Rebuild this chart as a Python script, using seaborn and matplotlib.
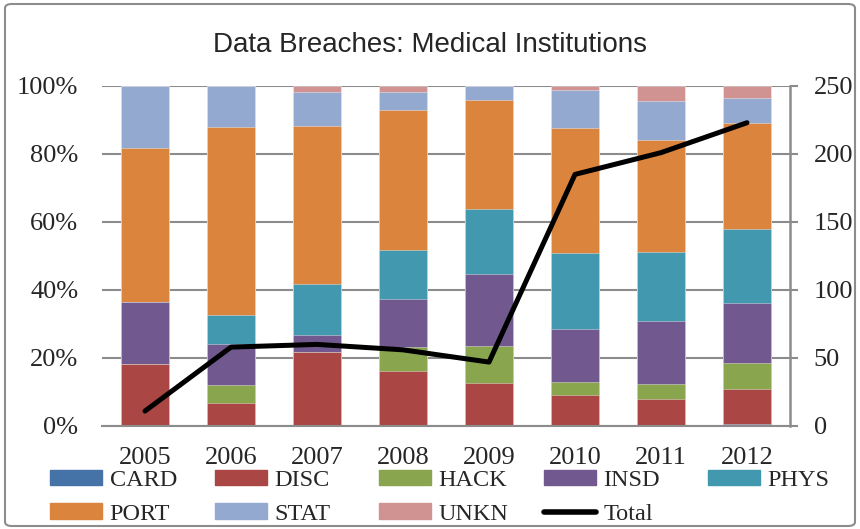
import numpy as np
import pandas as pd
import matplotlib
matplotlib.use('Agg')
import matplotlib.pyplot as plt
import seaborn as sns
from matplotlib.patches import Patch, FancyBboxPatch
from matplotlib.lines import Line2D

# ---- data (breach counts per year) ----
years = ['2005', '2006', '2007', '2008', '2009', '2010', '2011', '2012']
categories = ['CARD', 'DISC', 'HACK', 'INSD', 'PHYS', 'PORT', 'STAT', 'UNKN']
card = [0, 0, 0, 0, 0, 0, 0, 1]
disc = [2, 4, 13, 9, 6, 17, 16, 23]
hack = [0, 3, 0, 4, 5, 7, 9, 17]
insd = [2, 7, 3, 8, 10, 29, 37, 40]
phys = [0, 5, 9, 8, 9, 41, 41, 48]
port = [5, 32, 28, 23, 15, 68, 66, 70]
stat = [2, 7, 6, 3, 2, 21, 23, 16]
unkn = [0, 0, 1, 1, 0, 2, 9, 8]

colors = {'CARD': '#4572A7', 'DISC': '#AA4643', 'HACK': '#89A54E', 'INSD': '#71588F',
          'PHYS': '#4198AF', 'PORT': '#DB843D', 'STAT': '#93A9CF', 'UNKN': '#D19392'}

counts = pd.DataFrame({'CARD': card, 'DISC': disc, 'HACK': hack, 'INSD': insd,
                       'PHYS': phys, 'PORT': port, 'STAT': stat, 'UNKN': unkn}, index=years)
total = counts.sum(axis=1)
share = counts.div(total, axis=0) * 100
cum = share.cumsum(axis=1)

serif = ['Liberation Serif', 'DejaVu Serif']
sns.set_style('white')
plt.rcParams['font.family'] = serif

fig = plt.figure(figsize=(8.6, 5.29), dpi=100)
ax = fig.add_axes([102 / 860, 1 - 426 / 529, 688 / 860, 340 / 529])

# stacked bars: draw cumulative totals from the top layer down
for cat in categories[::-1]:
    d = pd.DataFrame({'Year': years, 'val': cum[cat].values})
    sns.barplot(data=d, x='Year', y='val', color=colors[cat], saturation=1,
                width=0.565, errorbar=None, ax=ax,
                edgecolor=(1, 1, 1, 0.45), linewidth=0.6, zorder=2)

ax.set_xlim(-0.5, 7.5)
ax.set_ylim(0, 100)
ax.set_yticks(np.arange(0, 101, 20))
ax.set_yticklabels([f'{v}%' for v in range(0, 101, 20)])
ax.yaxis.grid(True, color='#8c8c8c', linewidth=1.5, zorder=0)
ax.set_axisbelow(True)
ax.set_xlabel('')
ax.set_ylabel('')
ax.tick_params(axis='y', length=0, pad=17, labelsize=19)
ax.tick_params(axis='x', length=0, pad=15, labelsize=19)
for s in ['left', 'top', 'right']:
    ax.spines[s].set_visible(False)
ax.spines['bottom'].set_color('#8c8c8c')
ax.spines['bottom'].set_linewidth(1.5)

# total on secondary axis
ax2 = ax.twinx()
tot_df = pd.DataFrame({'x': np.arange(len(years)), 'Total': total.values})
sns.lineplot(data=tot_df, x='x', y='Total', color='black', linewidth=3.6,
             solid_capstyle='round', solid_joinstyle='round', ax=ax2)
ax2.set_xlim(-0.5, 7.5)
ax2.set_ylim(0, 250)
ax2.set_yticks(np.arange(0, 251, 50))
ax2.set_ylabel('')
ax2.set_xlabel('')
ax2.tick_params(axis='y', length=6, width=1.5, color='#8c8c8c', pad=11, labelsize=19)
for s in ['left', 'top', 'bottom']:
    ax2.spines[s].set_visible(False)
ax2.spines['right'].set_color('#8c8c8c')
ax2.spines['right'].set_linewidth(1.8)

fig.text(0.5, 1 - 45 / 529, 'Data Breaches: Medical Institutions', ha='center', va='center',
         fontsize=20, family=['Liberation Sans Narrow', 'Liberation Sans', 'DejaVu Sans'])

# legend: five fixed-width columns like the original
col_x = [50, 215, 379, 544, 708]
items = [Patch(color=colors[c]) for c in categories] + [Line2D([], [], color='black', lw=4)]
names = categories + ['Total']
cols = [[0, 5], [1, 6], [2, 7], [3, 8], [4]]
for x, idx in zip(col_x, cols):
    fig.legend([items[i] for i in idx], [names[i] for i in idx],
               loc='upper left', bbox_to_anchor=(x / 860, 1 - 470 / 529),
               frameon=False, borderaxespad=0, borderpad=0, fontsize=17.5,
               handlelength=2.15, handleheight=0.6, handletextpad=0.3, labelspacing=0.5)

fig.patches.append(FancyBboxPatch((5 / 860, 3 / 529), 850 / 860, 522 / 529,
                                  boxstyle='round,pad=0,rounding_size=0.008',
                                  transform=fig.transFigure, fill=False,
                                  edgecolor='#8c8c8c', linewidth=1.5))

fig.savefig('out.png', dpi=100)
